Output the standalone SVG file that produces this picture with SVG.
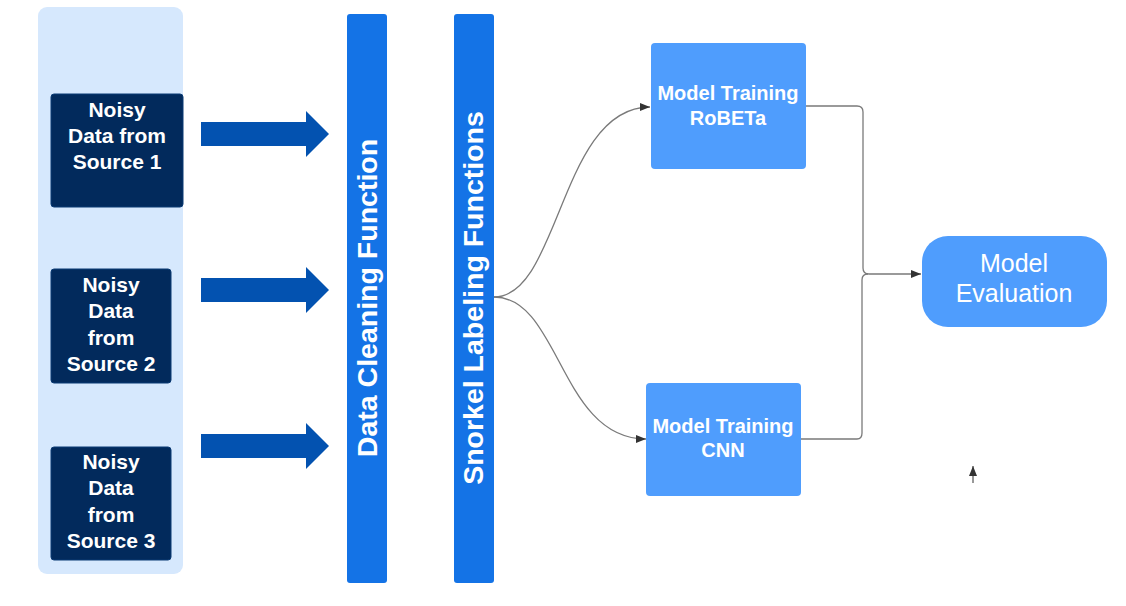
<svg xmlns="http://www.w3.org/2000/svg" width="1126" height="606" viewBox="0 0 1126 606">
<style>
.src{fill:#022a5c;stroke:#0b3b75;stroke-width:1}
.srct{font-family:"Liberation Sans",Arial,sans-serif;font-weight:bold;font-size:21px;fill:#fff;text-anchor:middle}
.bar{fill:#1473e6}
.bart{font-family:"Liberation Sans",Arial,sans-serif;font-weight:bold;font-size:28.5px;fill:#fff;text-anchor:middle}
.fat{fill:#0352b0}
.mdl{fill:#4f9dfd}
.mdlt{font-family:"Liberation Sans",Arial,sans-serif;font-weight:bold;font-size:20px;fill:#fff;text-anchor:middle}
.evt{font-family:"Liberation Sans",Arial,sans-serif;font-size:25px;fill:#fff;text-anchor:middle}
.con{fill:none;stroke:#7a7a7a;stroke-width:1.3}
</style>
<defs>
<marker id="ah" viewBox="0 0 10 10" refX="10" refY="5" markerWidth="10" markerHeight="10" markerUnits="userSpaceOnUse" orient="auto">
<path d="M0,1 L10,5 L0,9 Z" fill="#333"/>
</marker>
</defs>
<rect width="1126" height="606" fill="#fff"/>
<g id="panel"><rect x="38" y="7" width="145" height="567" rx="9" fill="#d6e8fd"/></g>
<g id="src1"><rect class="src" x="51" y="94" width="132" height="113" rx="3"/>
<text class="srct" x="117" y="117">Noisy</text><text class="srct" x="117" y="143">Data from</text><text class="srct" x="117" y="169">Source 1</text></g>
<g id="src2"><rect class="src" x="51" y="269" width="120" height="114" rx="3"/>
<text class="srct" x="111" y="292">Noisy</text><text class="srct" x="111" y="318">Data</text><text class="srct" x="111" y="345">from</text><text class="srct" x="111" y="371">Source 2</text></g>
<g id="src3"><rect class="src" x="51" y="447" width="120" height="113" rx="3"/>
<text class="srct" x="111" y="469">Noisy</text><text class="srct" x="111" y="495">Data</text><text class="srct" x="111" y="522">from</text><text class="srct" x="111" y="548">Source 3</text></g>
<g id="fat-arrows">
<path class="fat" d="M201,122 H306 V111 L329,134 L306,157 V146 H201 Z"/>
<path class="fat" d="M201,278 H306 V267 L329,290 L306,313 V302 H201 Z"/>
<path class="fat" d="M201,434 H306 V423 L329,446 L306,469 V458 H201 Z"/>
</g>
<g id="cleaning"><rect class="bar" x="347" y="14" width="40" height="569" rx="3"/>
<text class="bart" transform="translate(377,298) rotate(-90)">Data Cleaning Function</text></g>
<g id="snorkel"><rect class="bar" x="454" y="14" width="40" height="569" rx="3"/>
<text class="bart" transform="translate(483,298) rotate(-90)">Snorkel Labeling Functions</text></g>
<g id="roberta"><rect class="mdl" x="651" y="43" width="155" height="126" rx="4"/>
<text class="mdlt" x="728" y="100">Model Training</text><text class="mdlt" x="728" y="125">RoBETa</text></g>
<g id="cnn"><rect class="mdl" x="646" y="383" width="155" height="113" rx="4"/>
<text class="mdlt" x="723" y="433">Model Training</text><text class="mdlt" x="723" y="457">CNN</text></g>
<g id="evaluation"><rect class="mdl" x="922" y="236" width="185" height="91" rx="26"/>
<text class="evt" x="1014" y="272">Model</text><text class="evt" x="1014" y="302">Evaluation</text></g>
<g id="connectors">
<path class="con" d="M494,297 C560,297 560,107 650,107" marker-end="url(#ah)"/>
<path class="con" d="M494,297 C560,297 560,439 646,439" marker-end="url(#ah)"/>
<path class="con" d="M806,106 H857 Q863,106 863,112 V268 Q863,274 869,274 H921" marker-end="url(#ah)"/>
<path class="con" d="M801,439 H857 Q862,439 862,433 V280 Q862,274 868,274"/>
<path d="M973,483 V466" stroke="#333" stroke-width="1" fill="none" marker-end="url(#ah)"/>
</g>
</svg>
